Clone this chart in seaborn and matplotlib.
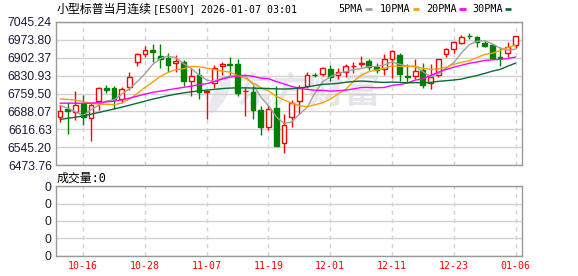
import numpy as np
import pandas as pd
import matplotlib
matplotlib.use("Agg")
import matplotlib.pyplot as plt
import seaborn as sns
from matplotlib.lines import Line2D
from matplotlib.patches import Ellipse
from matplotlib.transforms import IdentityTransform

# ---------------- data ----------------
dates = ["10-13", "10-14", "10-15", "10-16", "10-17", "10-20", "10-21", "10-22", "10-23", "10-24",
         "10-27", "10-28", "10-29", "10-30", "10-31", "11-03", "11-04", "11-05", "11-06", "11-07",
         "11-10", "11-11", "11-12", "11-13", "11-14", "11-17", "11-18", "11-19", "11-20", "11-21",
         "11-24", "11-25", "11-26", "11-27", "11-28", "12-01", "12-02", "12-03", "12-04", "12-05",
         "12-08", "12-09", "12-10", "12-11", "12-12", "12-15", "12-16", "12-17", "12-18", "12-19",
         "12-22", "12-23", "12-24", "12-26", "12-29", "12-30", "12-31", "01-02", "01-05", "01-06"]

opens = [6664.7, 6696.5, 6687.2, 6717.7, 6660.7, 6729.7, 6781.4, 6782.7, 6736.3, 6784.0,
         6886.1, 6917.9, 6932.5, 6908.6, 6902.0, 6882.1, 6884.8, 6810.5, 6833.1, 6766.8,
         6799.9, 6867.5, 6876.8, 6876.8, 6768.1, 6766.8, 6693.9, 6627.6, 6700.5, 6563.9,
         6664.7, 6731.0, 6789.3, 6834.4, 6835.7, 6855.6, 6831.7, 6846.3, 6867.5, 6876.8,
         6887.4, 6866.2, 6855.6, 6895.4, 6912.6, 6829.1, 6830.4, 6852.9, 6802.6, 6833.1,
         6915.3, 6935.2, 6961.7, 6989.5, 6982.9, 6961.7, 6951.1, 6903.3, 6919.2, 6952.4]
highs = [6713.8, 6727.0, 6770.8, 6753.5, 6720.4, 6786.7, 6793.3, 6789.3, 6786.7, 6846.3,
         6921.9, 6948.4, 6956.4, 6956.4, 6919.2, 6912.6, 6892.7, 6859.6, 6859.6, 6773.4,
         6872.8, 6886.1, 6903.3, 6895.4, 6786.7, 6789.3, 6709.8, 6713.8, 6789.3, 6676.6,
         6733.6, 6793.3, 6846.3, 6839.7, 6866.2, 6872.8, 6862.2, 6876.8, 6883.4, 6908.6,
         6896.7, 6879.5, 6915.3, 6932.5, 6919.2, 6875.5, 6895.4, 6882.1, 6875.5, 6895.4,
         6939.1, 6969.6, 6992.2, 6998.8, 6988.2, 6968.3, 6956.4, 6943.1, 6965.6, 6988.2]
lows = [6644.8, 6597.0, 6654.1, 6634.2, 6571.9, 6693.9, 6762.8, 6696.5, 6720.4, 6773.4,
        6870.2, 6906.0, 6886.1, 6859.6, 6846.3, 6846.3, 6790.6, 6749.5, 6736.3, 6658.1,
        6780.0, 6833.1, 6833.1, 6749.5, 6670.0, 6658.1, 6594.4, 6614.3, 6550.6, 6524.1,
        6627.6, 6677.9, 6780.0, 6823.8, 6829.1, 6809.2, 6815.8, 6826.4, 6839.7, 6863.6,
        6852.9, 6842.3, 6833.1, 6819.8, 6809.2, 6806.5, 6815.8, 6780.0, 6776.0, 6823.8,
        6906.0, 6919.2, 6956.4, 6974.9, 6943.1, 6945.8, 6895.4, 6870.2, 6906.0, 6939.1]
closes = [6691.2, 6688.5, 6713.8, 6667.3, 6713.8, 6780.0, 6773.4, 6738.9, 6776.0, 6826.4,
          6916.6, 6931.2, 6924.6, 6895.4, 6872.8, 6887.4, 6810.5, 6829.1, 6766.8, 6770.8,
          6859.6, 6876.8, 6874.2, 6762.8, 6770.8, 6693.9, 6627.6, 6696.5, 6550.6, 6632.9,
          6723.0, 6782.7, 6831.7, 6831.7, 6859.6, 6826.4, 6846.3, 6867.5, 6870.2, 6880.8,
          6866.2, 6852.9, 6895.4, 6928.5, 6837.0, 6826.4, 6849.0, 6792.0, 6826.4, 6895.4,
          6935.2, 6963.0, 6985.5, 6986.9, 6965.6, 6948.4, 6899.4, 6899.4, 6945.8, 6988.2]

# moving-average values for the first days (window not yet full)
ma5_head = [6712.4, 6700.5, 6687.0, 6671.3]
ma10_head = [6737.2, 6735.9, 6733.3, 6726.7, 6720.2, 6717.6, 6716.2, 6714.9, 6721.5]
ma20_head = [6721, 6721, 6721, 6720, 6721, 6723, 6726, 6729, 6734, 6741,
             6749, 6757, 6764, 6769, 6774, 6779, 6784, 6789, 6794]
ma30_head = [6656, 6661, 6665, 6670, 6677, 6684, 6691, 6698, 6705, 6713,
             6721, 6729, 6737, 6744, 6751, 6757, 6762, 6766, 6770, 6773,
             6776, 6779, 6781, 6782, 6782, 6781, 6780, 6779, 6778]

ma_names = ["5PMA", "10PMA", "20PMA", "30PMA"]
ma_windows = [5, 10, 20, 30]
ma_heads = [ma5_head, ma10_head, ma20_head, ma30_head]

y_ticks = [6473.76, 6545.20, 6616.63, 6688.07, 6759.50, 6830.93, 6902.37, 6973.80, 7045.24]
x_tick_labels = ["10-16", "10-28", "11-07", "11-19", "12-01", "12-11", "12-23", "01-06"]
title_cn = "小型标普当月连续"
title_code = "[ES00Y] 2026-01-07 03:01"
volume_label = "成交量:0"
watermark = "东方财富"

# ---------------- style ----------------
ma_colors = ["#a0a0a0", "#f5a300", "#ff00ff", "#0b6b35"]
up_color = "#ff0000"
down_color = "#008000"
grid_color = "#d2d2d2"
spine_color = "#999999"
label_color = "#1a1a3a"

sns.set_theme(style="white")
plt.rcParams["font.family"] = ["Liberation Sans", "Noto Sans CJK SC", "DejaVu Sans"]

W, H = 578, 276
fig = plt.figure(figsize=(W / 100, H / 100), dpi=100)
fig.patch.set_facecolor("white")


def fx(px):
    return px / W


def fy(py):
    return 1 - py / H


main_top, main_bot = 21.7, 165.3
vol_top, vol_bot = 186.3, 255.5
left, right = 56, 522
ax = fig.add_axes([fx(left), fy(main_bot), (right - left) / W, (main_bot - main_top) / H])
axv = fig.add_axes([fx(left), fy(vol_bot), (right - left) / W, (vol_bot - vol_top) / H])

df = pd.DataFrame({"date": dates, "open": opens, "high": highs, "low": lows, "close": closes})
df["idx"] = np.arange(len(df))
for name, win, head in zip(ma_names, ma_windows, ma_heads):
    ma = df["close"].rolling(win).mean()
    ma.iloc[:len(head)] = head
    df[name] = ma

# watermark (behind everything)
ax.text(fx(309), fy(92.5), watermark, transform=fig.transFigure, ha="center", va="center",
        fontsize=26, color="#e6e6ec", fontweight="bold", family=["Noto Sans CJK SC"], zorder=0.2)
ax.add_patch(Ellipse((220, H - 95), 13, 40, angle=-28, transform=IdentityTransform(),
                     facecolor="#e9e9ef", edgecolor="none", zorder=0.2))

# candles
up = df["close"] >= df["open"]
colors = np.where(up, up_color, down_color)
faces = np.where(up, "white", down_color)
ax.vlines(df["idx"], df["low"], df["high"], colors=colors, lw=1, zorder=2)
body_bottom = np.minimum(df["open"], df["close"])
body_h = np.abs(df["close"] - df["open"])
ax.bar(df["idx"], body_h, bottom=body_bottom, width=0.62, color=faces, edgecolor=colors,
       linewidth=1, zorder=3)

# moving averages
for name, col in zip(ma_names, ma_colors):
    sns.lineplot(data=df, x="idx", y=name, ax=ax, color=col, lw=1, zorder=4, legend=False)

tick_pos = [dates.index(d) for d in x_tick_labels]
for a in (ax, axv):
    a.set_xlim(-0.52, 59.84)
    a.set_xticks(tick_pos)
    a.set_xlabel("")
    a.set_ylabel("")
    a.grid(axis="x", color=grid_color, linestyle=(0, (3, 3)), lw=1)
    a.grid(axis="y", color=grid_color, linestyle="-", lw=1)
    a.set_axisbelow(True)
    a.tick_params(axis="both", length=0, pad=3)
    for s in a.spines.values():
        s.set_color(spine_color)
        s.set_linewidth(1)
        s.set_visible(True)

ax.set_ylim(y_ticks[0], y_ticks[-1])
ax.set_yticks(y_ticks)
ax.set_yticklabels([f"{v:.2f}" for v in y_ticks], fontsize=8.7, color=label_color)
ax.set_xticklabels([])

axv.set_ylim(0, 4)
axv.set_yticks([0, 1, 2, 3, 4])
axv.set_yticklabels(["0"] * 5, fontsize=8.7, color=label_color)
axv.set_xticklabels(x_tick_labels, fontsize=7.1, color="#ff0000", family=["DejaVu Sans Mono"])
axv.tick_params(axis="x", pad=4)

# title
fig.text(fx(57), fy(9), title_cn, ha="left", va="center", fontsize=8.6,
         family=["Noto Sans CJK SC"], color="black")
fig.text(fx(153), fy(9), title_code, ha="left", va="center", fontsize=7.1,
         family=["DejaVu Sans Mono"], color="black")

# legend
leg_text_x = [338, 380, 426, 472]
leg_line_x = [(365, 372), (413, 419), (459, 466), (505, 511)]
for name, col, tx, (l0, l1) in zip(ma_names, ma_colors, leg_text_x, leg_line_x):
    fig.text(fx(tx), fy(9), name, ha="left", va="center", fontsize=7.3,
             family=["DejaVu Sans Mono"], color="black")
    fig.add_artist(Line2D([fx(l0), fx(l1)], [fy(8.8), fy(8.8)], transform=fig.transFigure,
                          color=col, lw=2, solid_capstyle="butt"))

# volume label
fig.text(fx(57), fy(178), volume_label, ha="left", va="center", fontsize=8.6,
         family=["DejaVu Sans Mono", "Noto Sans CJK SC"], color="black")

fig.savefig("out.png", dpi=100, facecolor="white")
